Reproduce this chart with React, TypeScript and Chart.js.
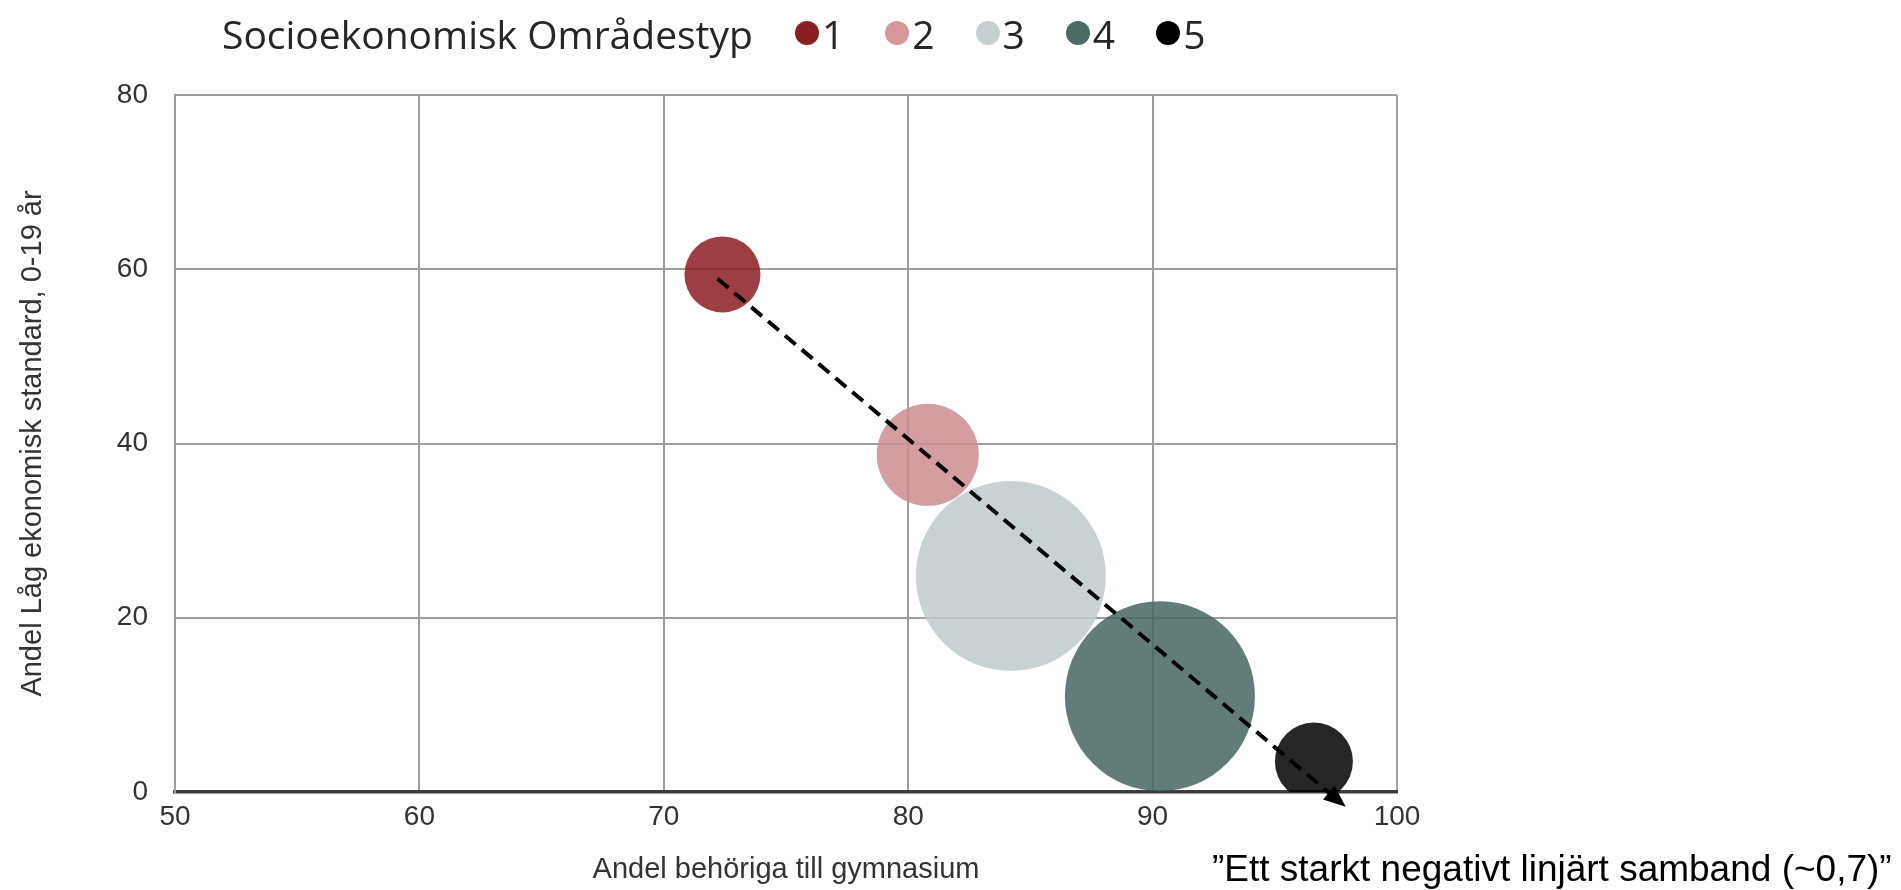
import React, { useEffect, useRef } from 'react';
import { Chart, registerables } from 'chart.js';

Chart.register(...registerables);

// ---- data ----
const categories = ['1', '2', '3', '4', '5'];
const behorigaGymnasium = [72.4, 80.8, 84.2, 90.3, 96.6];
const lagEkonomiskStandard = [59.4, 38.7, 24.8, 11.0, 3.5];
const bubbleSize = [38, 51, 95, 95, 39];
const xTickValues = [50, 60, 70, 80, 90, 100];
const yTickValues = [0, 20, 40, 60, 80];
const trendFrom = [72.2, 58.9];
const trendTo = [97.9, -1.7];

const legendTitle = 'Socioekonomisk Områdestyp';
const xTitle = 'Andel behöriga till gymnasium';
const yTitle = 'Andel Låg ekonomisk standard, 0-19 år';
const annotationText = '\u201DEtt starkt negativt linjärt samband (~0,7)\u201D';

// ---- styles ----
const legendColors = ['#8b1e22', '#d5979a', '#c5cfcf', '#4d6b66', '#000000'];
const bubbleColors = [
  'rgba(140,28,34,0.85)',
  'rgba(204,140,143,0.85)',
  'rgba(190,202,202,0.85)',
  'rgba(70,102,97,0.85)',
  'rgba(0,0,0,0.85)',
];
const AXIS_FONT = "'Liberation Sans', Arial, sans-serif";

const trendArrow = {
  id: 'trendArrow',
  afterDatasetsDraw(chart: any) {
    const { ctx, scales } = chart;
    const xs = scales.x;
    const ys = scales.y;
    const x0 = xs.getPixelForValue(trendFrom[0]);
    const y0 = ys.getPixelForValue(trendFrom[1]);
    const x1 = xs.getPixelForValue(trendTo[0]);
    const y1 = ys.getPixelForValue(trendTo[1]);
    const ang = Math.atan2(y1 - y0, x1 - x0);
    const cos = Math.cos(ang);
    const sin = Math.sin(ang);
    const headLen = 22;
    const headW = 9;
    const bx = x1 - headLen * cos;
    const by = y1 - headLen * sin;
    ctx.save();
    ctx.strokeStyle = '#000';
    ctx.lineWidth = 4;
    ctx.setLineDash([14, 8]);
    ctx.beginPath();
    ctx.moveTo(x0, y0);
    ctx.lineTo(bx, by);
    ctx.stroke();
    ctx.setLineDash([]);
    ctx.fillStyle = '#000';
    ctx.beginPath();
    ctx.moveTo(x1, y1);
    ctx.lineTo(bx + headW * sin, by - headW * cos);
    ctx.lineTo(bx - headW * sin, by + headW * cos);
    ctx.closePath();
    ctx.fill();
    ctx.restore();
  },
};

function BubbleChart() {
  const canvasRef = useRef<HTMLCanvasElement | null>(null);

  useEffect(() => {
    if (!canvasRef.current) return;
    const datasets = categories.map((c, i) => ({
      label: c,
      data: [{ x: behorigaGymnasium[i], y: lagEkonomiskStandard[i], r: bubbleSize[i] }],
      backgroundColor: bubbleColors[i],
      borderWidth: 0,
      hoverBorderWidth: 0,
      order: categories.length - i,
      clip: 0,
    }));
    const chart = new Chart(canvasRef.current, {
      type: 'bubble',
      data: { datasets },
      plugins: [trendArrow],
      options: {
        animation: false,
        responsive: true,
        maintainAspectRatio: false,
        events: [],
        layout: { padding: { left: 0, top: 92, right: 504, bottom: 0 } },
        plugins: {
          legend: { display: false },
          tooltip: { enabled: false },
        },
        scales: {
          x: {
            type: 'linear',
            min: xTickValues[0],
            max: xTickValues[xTickValues.length - 1],
            afterBuildTicks: (s: any) => {
              s.ticks = xTickValues.map((v) => ({ value: v }));
            },
            afterFit: (s: any) => {
              s.height = 98;
            },
            grid: { color: '#9e9e9e', lineWidth: 2, drawTicks: false },
            border: { color: '#3c3c3c', width: 3.5 },
            ticks: {
              padding: 8,
              color: '#333333',
              font: { family: AXIS_FONT, size: 28 },
            },
            title: {
              display: true,
              text: xTitle,
              color: '#333333',
              font: { family: AXIS_FONT, size: 29 },
              padding: { top: 0, bottom: 3 },
            },
          },
          y: {
            type: 'linear',
            min: yTickValues[0],
            max: yTickValues[yTickValues.length - 1],
            afterBuildTicks: (s: any) => {
              s.ticks = yTickValues.map((v) => ({ value: v }));
            },
            afterFit: (s: any) => {
              s.width = 175;
            },
            grid: { color: '#9e9e9e', lineWidth: 2, drawTicks: false },
            border: { color: '#9e9e9e', width: 2 },
            ticks: {
              padding: 27,
              color: '#333333',
              font: { family: AXIS_FONT, size: 28 },
            },
            title: {
              display: true,
              text: yTitle,
              color: '#333333',
              font: { family: AXIS_FONT, size: 29 },
              padding: { top: 16, bottom: 0 },
            },
          },
        },
      },
    } as any);
    return () => chart.destroy();
  }, []);

  return <canvas ref={canvasRef} />;
}

export default function App() {
  return (
    <div
      style={{
        position: 'absolute',
        left: 0,
        top: 0,
        width: 1901,
        height: 890,
        background: '#ffffff',
        overflow: 'hidden',
      }}
    >
      <div style={{ position: 'absolute', left: 0, top: 0, width: 1901, height: 890 }}>
        <BubbleChart />
      </div>
      <div
        style={{
          position: 'absolute',
          left: 222,
          top: 0,
          height: 66,
          display: 'flex',
          alignItems: 'center',
          fontFamily: "'Open Sans', 'Noto Sans', sans-serif",
          fontSize: 39,
          color: '#262626',
          whiteSpace: 'nowrap',
        }}
      >
        <span>{legendTitle}</span>
        {categories.map((c, i) => (
          <span
            key={c}
            style={{ display: 'flex', alignItems: 'center', marginLeft: i === 0 ? 42 : 41 }}
          >
            <span
              style={{
                display: 'inline-block',
                width: 24,
                height: 24,
                borderRadius: '50%',
                background: legendColors[i],
                marginRight: 3,
              }}
            />
            <span>{c}</span>
          </span>
        ))}
      </div>
      <div
        style={{
          position: 'absolute',
          left: 1212,
          top: 850,
          lineHeight: '37px',
          fontFamily: AXIS_FONT,
          fontSize: 37,
          color: '#000000',
          whiteSpace: 'nowrap',
        }}
      >
        {annotationText}
      </div>
    </div>
  );
}
